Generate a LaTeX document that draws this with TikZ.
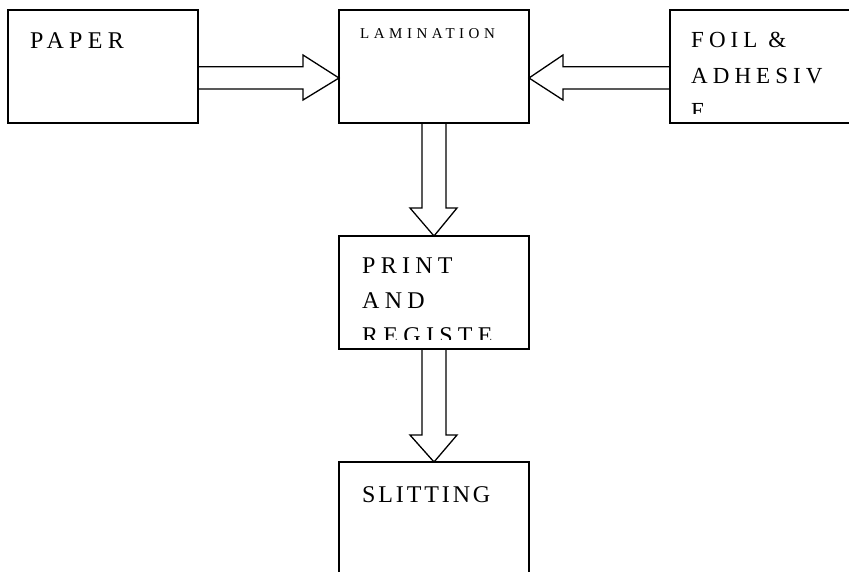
\documentclass[tikz,border=0pt]{standalone}
\usepackage{fontspec}
\setmainfont{Liberation Serif}
\newfontfamily\boxfont[LetterSpace=22]{Liberation Serif}
\newfontfamily\slitfont[LetterSpace=12]{Liberation Serif}
\newfontfamily\lamfont[LetterSpace=30]{Liberation Serif}
\usetikzlibrary{calc}
\tikzset{
  blk/.style={draw, line width=1.3pt, minimum width=190pt, minimum height=113pt, inner sep=0pt, outer sep=0pt},
  barrow/.style={draw, line width=1.3pt, line join=miter},
  lbl/.style={anchor=base west, inner sep=0pt, font=\boxfont\fontsize{24}{28}\selectfont}
}
\begin{document}
\begin{tikzpicture}[x=1pt,y=-1pt]
\useasboundingbox (0,0) rectangle (849,571);
% boxes
\node[blk] (paper) at (103,66.5) {};
\node[blk] (lam) at (434,66.5) {};
\node[blk] (foil) at (765,66.5) {};
\node[blk] (print) at (434,292.5) {};
\node[blk] (slit) at (434,518.5) {};
% texts
\node[lbl] (tpaper) at (30,48) {PAPER};
\node[lbl, font=\lamfont\fontsize{15}{18}\selectfont] (tlam) at (360,38) {LAMINATION};
\begin{scope}
\clip (671,11) rectangle (848,113);
\node[lbl, font=\boxfont\fontsize{23}{27}\selectfont] (tfoil1) at (691,47) {FOIL \&};
\node[lbl, font=\boxfont\fontsize{23}{27}\selectfont] (tfoil2) at (691,83) {ADHESIV};
\node[lbl, font=\boxfont\fontsize{23}{27}\selectfont] (tfoil3) at (691,118) {E};
\end{scope}
\begin{scope}
\clip (340,237) rectangle (528,339);
\node[lbl] (tprint1) at (362,273) {PRINT};
\node[lbl] (tprint2) at (362,308) {AND};
\node[lbl] (tprint3) at (362,343) {REGISTE};
\end{scope}
\node[lbl, font=\slitfont\fontsize{24}{28}\selectfont] (tslit) at (362,502) {SLITTING};
% block arrows
\draw[barrow] ($(paper.east)+(0,0.2)$) -- ++(105,0) -- ++(0,-11.7)
  -- ($(lam.west)+(0,11.5)$) -- ++(-36,22) -- ++(0,-11) -- ($(paper.east)+(0,22.5)$);
\draw[barrow] ($(foil.west)+(0,0.2)$) -- ++(-107,0) -- ++(0,-11.7)
  -- ($(lam.east)+(0,11.5)$) -- ++(34,22) -- ++(0,-11) -- ($(foil.west)+(0,22.5)$);
\draw[barrow] ($(lam.south)+(-12,0)$) -- ($(print.north)+(-12,-28)$) -- ($(print.north)+(-24,-28)$)
  -- (print.north) -- ($(print.north)+(23,-28)$) -- ($(print.north)+(12,-28)$) -- ($(lam.south)+(12,0)$);
\draw[barrow] ($(print.south)+(-12,0)$) -- ($(slit.north)+(-12,-27)$) -- ($(slit.north)+(-24,-27)$)
  -- (slit.north) -- ($(slit.north)+(23,-27)$) -- ($(slit.north)+(12,-27)$) -- ($(print.south)+(12,0)$);
\end{tikzpicture}
\end{document}
